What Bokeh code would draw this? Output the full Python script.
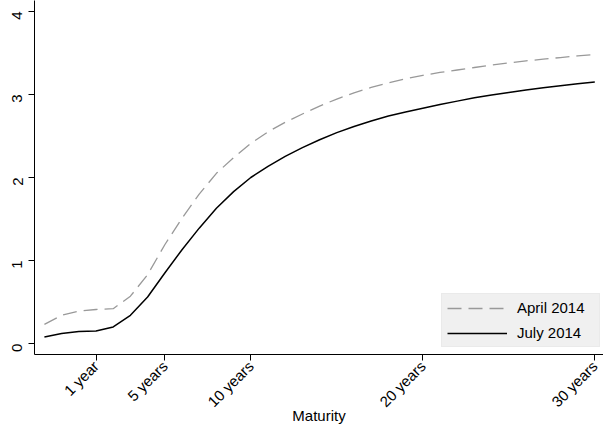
import math
from bokeh.plotting import figure
from bokeh.models import Range1d, FixedTicker, Legend, LegendItem
from bokeh.embed import file_html
from bokeh.resources import INLINE

# maturity index (1 = shortest maturity ... 33 = 30 years)
maturity_idx = [1, 2, 3, 4, 5, 6, 7, 8, 9, 10, 11, 12, 13, 14, 15, 16, 17,
                18, 19, 20, 21, 22, 23, 24, 25, 26, 27, 28, 29, 30, 31, 32, 33]
april_2014 = [0.23, 0.34, 0.39, 0.41, 0.42, 0.57, 0.83, 1.19, 1.51, 1.80, 2.05,
              2.24, 2.41, 2.55, 2.665, 2.765, 2.86, 2.945, 3.02, 3.085, 3.14, 3.19,
              3.23, 3.265, 3.295, 3.325, 3.355, 3.38, 3.405, 3.425, 3.445, 3.465, 3.48]
july_2014 = [0.08, 0.12, 0.145, 0.15, 0.20, 0.34, 0.56, 0.85, 1.13, 1.39, 1.63,
             1.83, 2.00, 2.135, 2.255, 2.36, 2.455, 2.54, 2.615, 2.68, 2.74, 2.79,
             2.835, 2.88, 2.92, 2.96, 2.995, 3.025, 3.055, 3.08, 3.105, 3.13, 3.15]
x_tick_pos = [4, 8, 13, 23, 33]
x_tick_labels = ["1 year", "5 years", "10 years", "20 years", "30 years"]
y_ticks = [0, 1, 2, 3, 4]
x_title = "Maturity"

FONT = "Liberation Sans"

p = figure(width=603, height=427, output_backend="svg", toolbar_location=None,
           x_range=Range1d(0.424, 33.506), y_range=Range1d(-0.132, 4.132),
           min_border_left=34, min_border_right=0, min_border_top=0,
           min_border_bottom=71, outline_line_color=None,
           background_fill_color="white", border_fill_color="white")

p.xgrid.visible = False
p.ygrid.visible = False

r_apr = p.line(maturity_idx, april_2014, line_color="#999999", line_width=1.3,
               line_dash="14 7")
r_jul = p.line(maturity_idx, july_2014, line_color="black", line_width=1.5)

# x axis
xa = p.xaxis[0]
xa.ticker = FixedTicker(ticks=x_tick_pos)
xa.major_label_overrides = {t: l for t, l in zip(x_tick_pos, x_tick_labels)}
xa.major_label_orientation = math.pi / 4
xa.major_label_text_font = FONT
xa.major_label_text_font_size = "15px"
xa.major_label_standoff = 3
xa.major_tick_out = 6
xa.major_tick_in = 0
xa.minor_tick_line_color = None
xa.axis_line_color = "black"
xa.major_label_text_color = "black"
xa.axis_label = x_title
xa.axis_label_text_font = FONT
xa.axis_label_text_font_size = "15px"
xa.axis_label_text_font_style = "normal"
xa.axis_label_text_color = "black"
xa.axis_label_standoff = -12

# y axis
ya = p.yaxis[0]
ya.ticker = FixedTicker(ticks=y_ticks)
ya.major_label_orientation = math.pi / 2
ya.major_label_text_font = FONT
ya.major_label_text_font_size = "15px"
ya.major_label_standoff = 11
ya.major_tick_out = 6
ya.major_tick_in = 0
ya.minor_tick_line_color = None
ya.axis_line_color = "black"
ya.major_label_text_color = "black"

legend = Legend(items=[LegendItem(label="April 2014", renderers=[r_apr]),
                       LegendItem(label="July 2014", renderers=[r_jul])],
                location=(407, 7), margin=0, padding=5, spacing=8,
                glyph_width=60, glyph_height=16, label_height=16,
                label_width=77, label_standoff=10,
                label_text_font=FONT, label_text_font_size="15px",
                label_text_color="black",
                background_fill_color="#f0f0f0", background_fill_alpha=1.0,
                border_line_color="#e4e4e4")
p.add_layout(legend, "center")

open("out.html", "w").write(file_html(p, INLINE))
